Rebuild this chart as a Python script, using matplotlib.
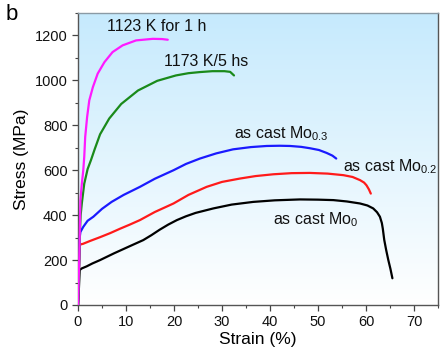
import numpy as np
import matplotlib
matplotlib.use("Agg")
import matplotlib.pyplot as plt
from matplotlib.colors import LinearSegmentedColormap

plt.rcParams['font.family'] = ['Liberation Sans', 'DejaVu Sans']
plt.rcParams['mathtext.fontset'] = 'custom'
plt.rcParams['mathtext.rm'] = 'Liberation Sans'
plt.rcParams['mathtext.it'] = 'Liberation Sans:italic'
plt.rcParams['mathtext.bf'] = 'Liberation Sans:bold'

# Data (strain %, stress MPa)
strain_1123 = [0, 0.25, 0.4, 0.5, 0.8, 1.1, 1.3, 1.5, 1.9, 2.35, 3.1, 4.1, 5.5, 7.2, 9.3,
               12.1, 15.6, 17.5, 18.7]
stress_1123 = [0, 200, 350, 467, 540, 600, 659, 748, 837, 911, 970, 1030, 1081, 1126, 1156,
               1178, 1185, 1184, 1181]

strain_1173 = [0, 0.2, 0.35, 0.55, 0.8, 1.3, 2.0, 2.7, 3.5, 4.6, 6.5, 9.0, 12.5, 16.5,
               20.4, 23.0, 25.4, 28.0, 30.5, 31.7, 32.5]
stress_1173 = [0, 150, 300, 400, 453, 540, 605, 645, 695, 760, 830, 895, 955, 998,
               1022, 1032, 1037, 1041, 1041, 1038, 1022]

strain_mo03 = [0, 0.2, 0.35, 0.5, 1.1, 2.0, 3.2, 5.0, 7.0, 9.5, 12.9, 16.0, 19.9, 22.5, 25.4,
               28.8, 32.3, 36.0, 39.3, 42.0, 44.2, 46.5, 48.3, 50.2, 51.8, 53.0, 53.8]
stress_mo03 = [0, 150, 300, 325, 348, 375, 393, 428, 459, 490, 526, 562, 600, 628, 652,
               675, 693, 703, 708, 709, 708, 704, 698, 690, 677, 665, 652]

strain_mo02 = [0, 0.2, 0.35, 0.5, 1.0, 2.5, 4.6, 6.7, 8.8, 10.8, 12.9, 16.0, 19.9, 23.0, 26.8,
               30.0, 33.75, 37.0, 40.7, 44.5, 48.3, 52.0, 55.3, 57.2, 58.75, 59.6, 60.1, 60.6, 61.0]
stress_mo02 = [0, 150, 260, 270, 272, 285, 302, 320, 340, 358, 378, 414, 452, 490, 526,
               548, 563, 574, 582, 587, 588, 585, 578, 570, 556, 545, 533, 515, 496]

strain_mo0 = [0, 0.2, 0.35, 0.8, 1.8, 3.0, 4.6, 7.5, 10.8, 13.6, 15.3, 17.0, 18.8, 20.6, 22.5,
              24.5, 28.2, 32.0, 36.5, 41.0, 46.25, 50.0, 53.2, 56.0, 58.75, 60.3, 61.5, 62.3,
              62.9, 63.3, 63.5, 63.8, 64.2, 64.65, 65.1, 65.5]
stress_mo0 = [0, 80, 156, 163, 172, 185, 200, 230, 262, 289, 311, 335, 358, 378, 395,
              410, 430, 447, 459, 466, 470, 469, 467, 461, 452, 443, 430, 413,
              393, 365, 340, 290, 245, 200, 160, 119]

series = [
    (strain_mo0, stress_mo0, 'black'),
    (strain_mo02, stress_mo02, '#ff1a1a'),
    (strain_mo03, stress_mo03, '#1a1aff'),
    (strain_1173, stress_1173, '#1a8a1a'),
    (strain_1123, stress_1123, '#ff1aff'),
]

labels = ["1123 K for 1 h", "1173 K/5 hs", "as cast Mo$_{0.3}$", "as cast Mo$_{0.2}$", "as cast Mo$_{0}$"]
label_pos = [(6.0, 1240), (17.9, 1084), (32.5, 764), (55.2, 615), (40.6, 382)]

x_ticks = [0, 10, 20, 30, 40, 50, 60, 70]
y_ticks = [0, 200, 400, 600, 800, 1000, 1200]

fig = plt.figure(figsize=(4.46, 3.52), dpi=100)
ax = fig.add_axes([78/446, 1-305/352, 360/446, 292/352])
ax.set_xlim(0, 75)
ax.set_ylim(0, 1300)

# gradient background
cmap = LinearSegmentedColormap.from_list('bg', ['#ffffff', '#c6eafd'])
grad = np.linspace(0, 1, 256).reshape(-1, 1)
ax.imshow(grad, cmap=cmap, aspect='auto', extent=[0, 75, 0, 1300], origin='lower', zorder=0)

for xs, ys, c in series:
    ax.plot(xs, ys, color=c, lw=1.6, zorder=3, solid_capstyle='round', solid_joinstyle='round')

for t, (x, y) in zip(labels, label_pos):
    ax.text(x, y, t, fontsize=11.5, ha='left', va='center', color='#111111', zorder=4)

ax.set_xticks(x_ticks)
ax.set_yticks(y_ticks)
ax.set_xticks(np.arange(0, 76, 5), minor=True)
ax.set_yticks(np.arange(0, 1301, 100), minor=True)
ax.tick_params(which='major', direction='out', length=4, width=0.9, colors='#444444', labelsize=10.5, labelcolor='#111111')
ax.tick_params(which='minor', direction='out', length=2.5, width=0.8, colors='#444444')
for s in ax.spines.values():
    s.set_color('#555555')
    s.set_linewidth(1.0)
ax.spines['top'].set_color('#8a9aa5')

ax.set_xlabel("Strain (%)", fontsize=12.5, labelpad=2)
ax.set_ylabel("Stress (MPa)", fontsize=12.5, labelpad=4)

fig.text(6/446, 1-20/352, "b", fontsize=16, ha='left', va='baseline')

fig.savefig("out.png", dpi=100)
